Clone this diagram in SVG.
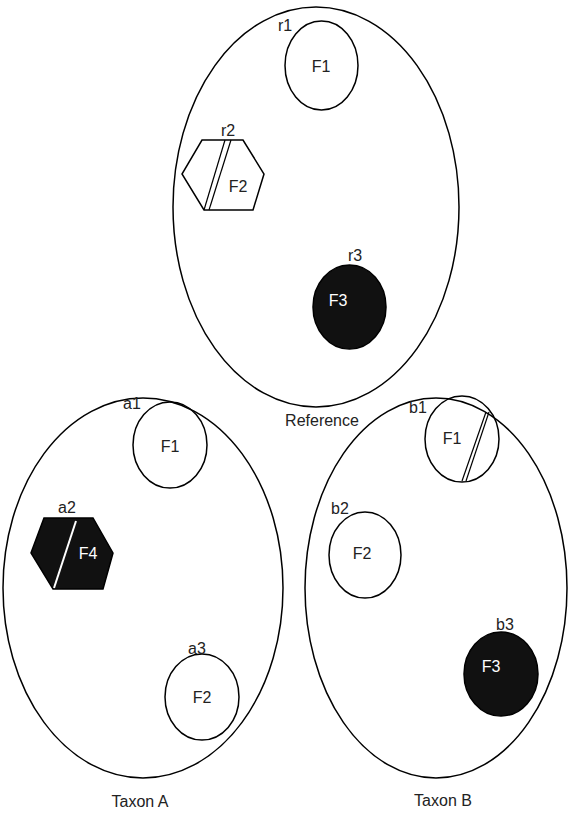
<svg xmlns="http://www.w3.org/2000/svg" width="570" height="817" viewBox="0 0 570 817">
<style>
.o{fill:none;stroke:#000;stroke-width:1.5}
.f{fill:none;stroke:#000;stroke-width:1.5}
.k{fill:#111;stroke:#000;stroke-width:1.5}
text{font-family:"Liberation Sans",Arial,sans-serif;font-size:16px;fill:#222;text-anchor:middle;dominant-baseline:central}
.w{fill:#fff}
.l{stroke:#000;stroke-width:1.2;fill:none}
</style>
<rect width="570" height="817" fill="#fff"/>
<g id="reference">
<ellipse class="o" cx="316" cy="207" rx="143" ry="200"/>
<text x="322" y="420">Reference</text>
</g>
<g id="taxonA">
<ellipse class="o" cx="143" cy="588" rx="140" ry="190"/>
<text x="140" y="801">Taxon A</text>
</g>
<g id="taxonB">
<ellipse class="o" cx="436" cy="588" rx="131" ry="190"/>
<text x="443" y="800">Taxon B</text>
</g>
<g id="r1">
<ellipse class="f" cx="321.5" cy="65.5" rx="36.5" ry="44.5"/>
<text x="321" y="66">F1</text>
<text x="285" y="25">r1</text>
</g>
<g id="r2">
<polygon class="f" points="202,140 243,140 264,174 253,210 204,210 182,174"/>
<line class="l" x1="225" y1="140" x2="204" y2="210"/>
<line class="l" x1="231" y1="140" x2="209" y2="210"/>
<text x="238" y="186">F2</text>
<text x="228" y="130">r2</text>
</g>
<g id="r3">
<ellipse class="k" cx="349.5" cy="307" rx="36.5" ry="42"/>
<text class="w" x="338" y="300">F3</text>
<text x="355" y="255">r3</text>
</g>
<g id="a1">
<ellipse class="f" cx="170" cy="445" rx="37" ry="43"/>
<text x="170" y="446">F1</text>
<text x="132" y="403">a1</text>
</g>
<g id="a2">
<polygon class="k" points="44,518 93,518 113,553 103,589 53,589 31,553"/>
<line x1="76" y1="521" x2="54" y2="588" stroke="#fff" stroke-width="2"/>
<text class="w" x="88" y="553">F4</text>
<text x="67" y="507">a2</text>
</g>
<g id="a3">
<ellipse class="f" cx="202" cy="697" rx="37" ry="43"/>
<text x="202" y="697">F2</text>
<text x="197" y="648">a3</text>
</g>
<g id="b1">
<ellipse class="f" cx="462" cy="439" rx="37" ry="43"/>
<line class="l" x1="486" y1="412" x2="462" y2="481"/>
<line class="l" x1="489" y1="412" x2="466" y2="481"/>
<text x="452" y="438">F1</text>
<text x="418" y="407">b1</text>
</g>
<g id="b2">
<ellipse class="f" cx="365" cy="555" rx="36" ry="43"/>
<text x="362" y="553">F2</text>
<text x="340" y="508">b2</text>
</g>
<g id="b3">
<ellipse class="k" cx="501" cy="674" rx="37" ry="42"/>
<text class="w" x="491" y="666">F3</text>
<text x="505" y="624">b3</text>
</g>
<g id="connectors"></g>
</svg>
